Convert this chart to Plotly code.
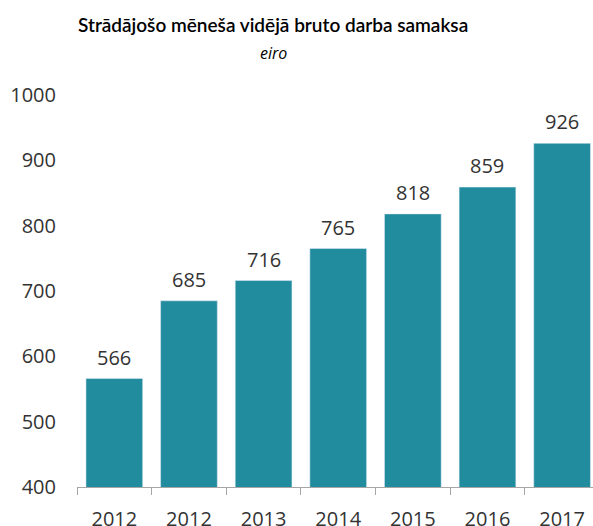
import plotly.graph_objects as go

years = ["2012", "2012", "2013", "2014", "2015", "2016", "2017"]
values = [566, 685, 716, 765, 818, 859, 926]
y_ticks = [400, 500, 600, 700, 800, 900, 1000]

positions = list(range(len(years)))
boundaries = [p - 0.5 for p in positions] + [positions[-1] + 0.5]
bar_color = "#228C9F"
font_family = "Open Sans"
text_color = "#333333"

x_range = [-0.5, len(years) - 0.5 - 0.086]

fig = go.Figure()
fig.add_trace(go.Bar(
    x=positions, y=values, marker_color=bar_color, width=0.76,
    hoverinfo="x+y", showlegend=False,
))

for p, v in zip(positions, values):
    fig.add_annotation(x=p, y=v, text=str(v), showarrow=False,
                       yanchor="bottom", yshift=6,
                       font=dict(family=font_family, size=20, color=text_color))

fig.add_annotation(text="Strādājošo mēneša vidējā bruto darba samaksa",
                   xref="paper", yref="paper", x=(273 - 77) / 516, y=1,
                   yshift=95 - 24, showarrow=False, yanchor="middle",
                   font=dict(family="Lato", size=19, color="#000000", weight=600))
fig.add_annotation(text="<i>eiro</i>",
                   xref="paper", yref="paper", x=(273 - 77) / 516, y=1,
                   yshift=95 - 53, showarrow=False, yanchor="middle",
                   font=dict(family=font_family, size=16, color="#000000"))

fig.update_layout(
    width=593, height=526,
    margin=dict(l=77, r=0, t=95, b=39),
    paper_bgcolor="white", plot_bgcolor="white",
    xaxis=dict(range=x_range, tickvals=positions, ticktext=years,
               ticks="", showgrid=False, zeroline=False, automargin=False,
               showline=True, linecolor="#A6A6A6", linewidth=1,
               ticklabelstandoff=14,
               tickfont=dict(family=font_family, size=20, color=text_color)),
    xaxis2=dict(range=x_range, overlaying="x", anchor="y", side="bottom",
                tickvals=boundaries, showticklabels=False, ticks="outside",
                ticklen=7, tickcolor="#A6A6A6", showgrid=False,
                automargin=False, zeroline=False, showline=False),
    yaxis=dict(range=[400, 1000], tickvals=y_ticks, ticks="", showgrid=False,
               automargin=False, zeroline=False, showline=False,
               ticklabelstandoff=20,
               tickfont=dict(family=font_family, size=20, color=text_color)),
)
fig.add_trace(go.Scatter(x=[None], y=[None], xaxis="x2", yaxis="y",
                         showlegend=False, hoverinfo="skip"))

fig.write_html("out.html", config={"displayModeBar": False},
               post_script="document.body.style.margin='0';")
